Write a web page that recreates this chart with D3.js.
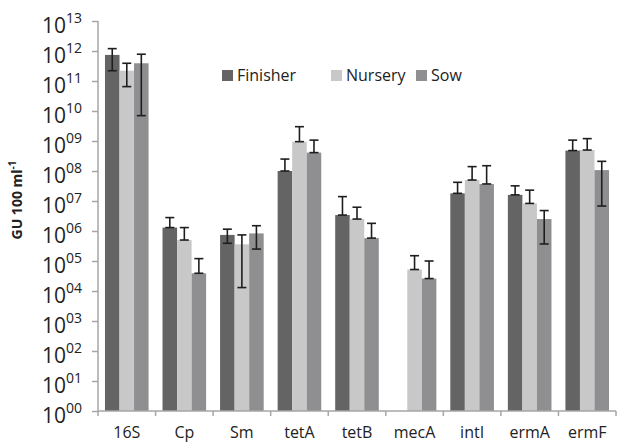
<html>
<head>
<script src="https://d3js.org/d3.v7.min.js"></script>
<style>
  body { margin: 0; background: white; }
  text { font-family: "Open Sans", "Noto Sans", sans-serif; fill: #222; }
</style>
</head>
<body>
<script>
// genes along the x axis
var genes = ["16S", "Cp", "Sm", "tetA", "tetB", "mecA", "intI", "ermA", "ermF"];
var seriesNames = ["Finisher", "Nursery", "Sow"];
var seriesColors = ["#646464", "#c8c8c8", "#8f8f91"];

// bar heights (GU 100 ml-1); mecA has no Finisher bar
var finisher = [7.4e11, 1.3e6, 7.4e5, 1.0e8, 3.4e6, null, 1.8e7, 1.6e7, 4.8e8];
var nursery  = [2.2e11, 5.0e5, 3.6e5, 9.5e8, 2.5e6, 5.2e4, 5.0e7, 8.3e6, 5.0e8];
var sow      = [3.9e11, 3.9e4, 8.3e5, 4.1e8, 5.8e5, 2.6e4, 3.7e7, 2.5e6, 1.07e8];

// error bar ends
var finisherHi = [1.2e12, 2.8e6, 1.15e6, 2.5e8, 1.4e7, null, 4.2e7, 3.2e7, 1.07e9];
var finisherLo = [2.2e11, 1.3e6, 3.9e5, 1.0e8, 3.4e6, null, 1.8e7, 1.6e7, 4.8e8];
var nurseryHi  = [3.9e11, 1.3e6, 7.4e5, 3.0e9, 6.2e6, 1.5e5, 1.4e8, 2.3e7, 1.2e9];
var nurseryLo  = [6.5e10, 5.0e5, 1.3e4, 9.5e8, 2.5e6, 5.2e4, 5.0e7, 8.3e6, 5.0e8];
var sowHi      = [7.8e11, 1.2e5, 1.5e6, 1.07e9, 1.8e6, 1.0e5, 1.5e8, 4.8e6, 2.1e8];
var sowLo      = [7.0e9, 3.9e4, 2.5e5, 4.1e8, 5.8e5, 2.6e4, 3.7e7, 3.7e5, 6.8e6];

// y tick labels: 10^00 ... 10^13
var tickExps = ["00","01","02","03","04","05","06","07","08","09","10","11","12","13"];

var width = 635, height = 443;
var margin = {left: 98, right: 19, top: 21, bottom: 32};

var svg = d3.select("body").append("svg").attr("width", width).attr("height", height);

var x = d3.scaleBand().domain(genes).range([margin.left, width - margin.right]).paddingInner(0).paddingOuter(0);
var xs = d3.scaleBand().domain(seriesNames).range([0, x.bandwidth()]).paddingInner(0).paddingOuter(0.48);
var y = d3.scaleLog().domain([1, 1e13]).range([height - margin.bottom, margin.top]);

var series = [
  {name: "Finisher", vals: finisher, hi: finisherHi, lo: finisherLo},
  {name: "Nursery", vals: nursery, hi: nurseryHi, lo: nurseryLo},
  {name: "Sow", vals: sow, hi: sowHi, lo: sowLo}
];

// bars
var groups = svg.append("g").selectAll("g").data(series).enter().append("g")
  .attr("fill", function(d, i) { return seriesColors[i]; });

groups.selectAll("rect").data(function(s) {
    return genes.map(function(g, i) { return {gene: g, s: s.name, v: s.vals[i], hi: s.hi[i], lo: s.lo[i]}; })
      .filter(function(d) { return d.v != null; });
  }).enter().append("rect")
  .attr("x", function(d) { return x(d.gene) + xs(d.s); })
  .attr("width", xs.bandwidth())
  .attr("y", function(d) { return y(d.v); })
  .attr("height", function(d) { return y(1) - y(d.v); });

// error bars
var eb = svg.append("g").attr("stroke", "#1e1e1e").attr("stroke-width", 1.6);
series.forEach(function(s) {
  genes.forEach(function(g, i) {
    if (s.vals[i] == null) return;
    var cx = x(g) + xs(s.name) + xs.bandwidth() / 2;
    var y1 = y(s.hi[i]), y2 = y(s.lo[i]);
    eb.append("line").attr("x1", cx).attr("x2", cx).attr("y1", y1).attr("y2", y2);
    eb.append("line").attr("x1", cx - 4.5).attr("x2", cx + 4.5).attr("y1", y1).attr("y2", y1);
    eb.append("line").attr("x1", cx - 4.5).attr("x2", cx + 4.5).attr("y1", y2).attr("y2", y2);
  });
});

// y axis
var yAxis = d3.axisLeft(y).tickValues(tickExps.map(function(e) { return Math.pow(10, +e); }))
  .tickSize(6).tickFormat("");
var ya = svg.append("g").attr("transform", "translate(" + margin.left + ",0)").call(yAxis);
ya.selectAll("path, line").attr("stroke", "#a6a6a6").attr("stroke-width", 1.5);
ya.select(".domain").attr("d", "M0," + y(1) + "V" + y(1e13));

var ylab = svg.append("g").selectAll("text").data(tickExps).enter().append("text")
  .attr("x", 82).attr("y", function(e) { return y(Math.pow(10, +e)) + 12; })
  .attr("text-anchor", "end").style("font-size", "21px");
ylab.append("tspan").text("10");
ylab.append("tspan").attr("dy", -10).style("font-size", "14px").text(function(e) { return e; });

// x axis
var xa = svg.append("g").attr("transform", "translate(0," + y(1) + ")");
xa.append("line").attr("x1", margin.left).attr("x2", width - margin.right)
  .attr("stroke", "#a6a6a6").attr("stroke-width", 1.5);
xa.selectAll(".tk").data(genes.concat(["end"])).enter().append("line")
  .attr("x1", function(d, i) { return margin.left + i * x.bandwidth(); })
  .attr("x2", function(d, i) { return margin.left + i * x.bandwidth(); })
  .attr("y1", 0).attr("y2", 5).attr("stroke", "#a6a6a6").attr("stroke-width", 1.5);
xa.selectAll("text").data(genes).enter().append("text")
  .attr("x", function(d) { return x(d) + x.bandwidth() / 2; })
  .attr("y", 27).attr("text-anchor", "middle").style("font-size", "16px")
  .text(function(d) { return d; });

// y title
var yt = svg.append("text").attr("transform", "translate(22,200) rotate(-90)")
  .attr("text-anchor", "middle").style("font-size", "14px").style("font-weight", "bold");
yt.append("tspan").text("GU 100 ml");
yt.append("tspan").attr("dy", -6).style("font-size", "10px").text("-1");

// legend
var legX = [222, 331, 416];
var leg = svg.append("g").selectAll("g").data(seriesNames).enter().append("g")
  .attr("transform", function(d, i) { return "translate(" + legX[i] + ",70)"; });
leg.append("rect").attr("width", 11).attr("height", 11).attr("fill", function(d, i) { return seriesColors[i]; });
leg.append("text").attr("x", 15).attr("y", 11).style("font-size", "16px").text(function(d) { return d; });
</script>
</body>
</html>
